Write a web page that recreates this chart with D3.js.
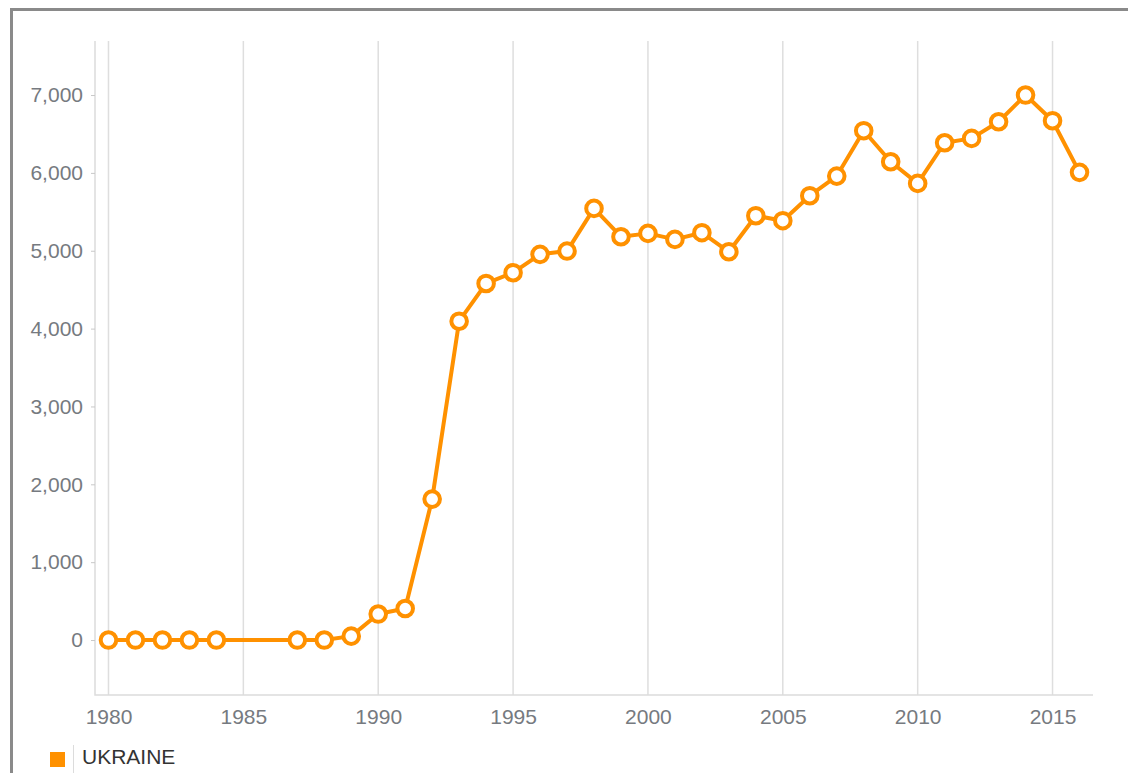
<!DOCTYPE html>
<html>
<head>
<meta charset="utf-8">
<script src="https://cdn.jsdelivr.net/npm/d3@7.9.0/dist/d3.min.js"></script>
<style>
  body { margin: 0; background: #fff; }
  svg { display: block; font-family: "Liberation Sans", Arial, sans-serif; }
</style>
</head>
<body>
<svg id="chart" width="1128" height="773"></svg>
<script>
// Ukraine series (1985 and 1986 have no value, the line just joins across)
const years = [1980, 1981, 1982, 1983, 1984, 1987, 1988, 1989, 1990, 1991,
  1992, 1993, 1994, 1995, 1996, 1997, 1998, 1999, 2000, 2001, 2002, 2003,
  2004, 2005, 2006, 2007, 2008, 2009, 2010, 2011, 2012, 2013, 2014, 2015, 2016];
const values = [0, 0, 0, 0, 0, 0, 0, 50, 334, 405,
  1810, 4095, 4580, 4718, 4954, 4996, 5544, 5180, 5223, 5146, 5232, 4987,
  5450, 5386, 5707, 5959, 6542, 6143, 5865, 6387, 6443, 6657, 7000, 6670, 6007];
const xTicks = [1980, 1985, 1990, 1995, 2000, 2005, 2010, 2015];
const yTicks = [0, 1000, 2000, 3000, 4000, 5000, 6000, 7000];
const seriesName = "UKRAINE";

const orange = "#ff9100";
const data = years.map((yr, i) => ({ year: yr, value: values[i] }));

const svg = d3.select("#chart");
const plotLeft = 95, plotRight = 1093, plotTop = 41, plotBottom = 695;

const x = d3.scaleLinear().domain([1979.5, 2016.5]).range([plotLeft, plotRight]);
const y = d3.scaleLinear().domain([-706, 7694]).range([plotBottom, plotTop]);

// outer frame (only top and left edges show)
svg.append("path")
  .attr("d", `M11.5,773 V9.5 H1128`)
  .attr("fill", "none")
  .attr("stroke", "#8a8a8a")
  .attr("stroke-width", 3);

// vertical grid lines
svg.append("g")
  .selectAll("line")
  .data(xTicks)
  .join("line")
  .attr("x1", (d) => x(d))
  .attr("x2", (d) => x(d))
  .attr("y1", plotTop)
  .attr("y2", plotBottom)
  .attr("stroke", "#dedede")
  .attr("stroke-width", 1.5);

// axis lines
svg.append("path")
  .attr("d", `M${plotLeft},${plotTop} V${plotBottom} H${plotRight}`)
  .attr("fill", "none")
  .attr("stroke", "#dcdcdc")
  .attr("stroke-width", 1.5);

// y axis labels + small ticks
const yAxis = svg.append("g")
  .attr("transform", `translate(${plotLeft},0)`)
  .call(d3.axisLeft(y).tickValues(yTicks).tickSize(4).tickPadding(8)
    .tickFormat(d3.format(",")));
yAxis.select(".domain").remove();
yAxis.selectAll(".tick line").attr("stroke", "#c8c8c8");
yAxis.selectAll(".tick text")
  .attr("fill", "#767a80")
  .style("font-size", "21px")
  .style("font-family", "'Liberation Sans', Arial, sans-serif");

// x axis labels
const xAxis = svg.append("g")
  .attr("transform", `translate(0,${plotBottom})`)
  .call(d3.axisBottom(x).tickValues(xTicks).tickSize(0).tickPadding(14)
    .tickFormat(d3.format("d")));
xAxis.select(".domain").remove();
xAxis.selectAll(".tick text")
  .attr("fill", "#767a80")
  .style("font-size", "21px")
  .style("font-family", "'Liberation Sans', Arial, sans-serif");

// line
const line = d3.line()
  .x((d) => x(d.year))
  .y((d) => y(d.value));

svg.append("path")
  .datum(data)
  .attr("d", line)
  .attr("fill", "none")
  .attr("stroke", orange)
  .attr("stroke-width", 4)
  .attr("stroke-linejoin", "round");

svg.append("g")
  .selectAll("circle")
  .data(data)
  .join("circle")
  .attr("cx", (d) => x(d.year))
  .attr("cy", (d) => y(d.value))
  .attr("r", 7.8)
  .attr("fill", "#fff")
  .attr("stroke", orange)
  .attr("stroke-width", 4);

// legend
const legend = svg.append("g");
legend.append("rect")
  .attr("x", 50).attr("y", 752)
  .attr("width", 15).attr("height", 15)
  .attr("fill", orange);
legend.append("line")
  .attr("x1", 73.5).attr("x2", 73.5)
  .attr("y1", 745).attr("y2", 773)
  .attr("stroke", "#dcdcdc")
  .attr("stroke-width", 1);
legend.append("text")
  .attr("x", 82).attr("y", 764)
  .attr("fill", "#333")
  .style("font-size", "21px")
  .text(seriesName);
</script>
</body>
</html>
